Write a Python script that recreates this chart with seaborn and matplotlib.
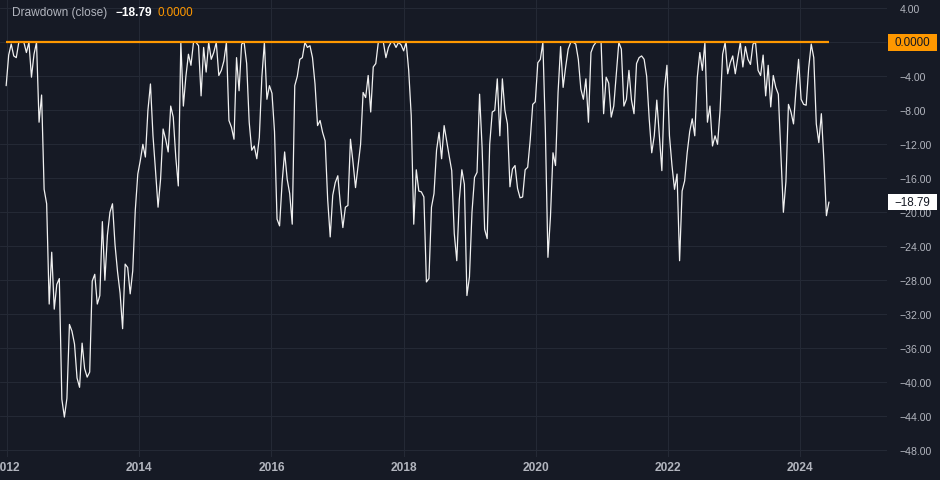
import matplotlib
matplotlib.use("Agg")
import matplotlib.pyplot as plt
import matplotlib.transforms as mtransforms
from matplotlib.patches import Rectangle
import pandas as pd
import seaborn as sns

# ---------------- data (biweekly closes, drawdown in %) ----------------
period_end = "2024-06-10"
period_freq = "14D"

drawdown_a = [-5.1, -1.5, -0.2, -1.6, -1.8, 0, 0, 0, -1.2, 0,
              -4.1, -1.4, 0, -9.4, -6.2, -17.3, -19, -30.8, -24.7, -31.4,
              -28.5, -27.8, -42, -44.1, -41.9, -33.2, -34, -35.5, -39.5, -40.6,
              -35.4, -38.4, -39.4, -38.8, -28.1, -27.3, -30.8, -29.8, -21.1, -28,
              -22.7, -20, -19, -23.8, -27, -29.5, -33.7, -26.1, -26.5, -29.6]
drawdown_b = [-26.9, -19.8, -15.5, -13.9, -12, -13.5, -8, -4.9, -11, -15.1,
              -19.4, -16.1, -10.2, -11.4, -12.9, -7.5, -8.8, -13.5, -16.9, 0,
              -7.5, -4, -1.4, -2.7, 0, 0, -0.4, -6.3, -0.6, -3.5,
              0, -2, -1.2, 0, -3.9, -3.3, -2.2, 0, -9.2, -10,
              -11.4, -1.8, -5.7, -0.2, 0, -2.5, -9.4, -12.7, -12.2, -13.7]
drawdown_c = [-11.2, -4.1, 0, -6.7, -5.1, -6, -10.5, -20.8, -21.6, -16.5,
              -12.9, -16.1, -17.8, -21.4, -5.1, -4, -2, -1.8, 0, -0.6,
              -0.4, -1.8, -4.9, -9.8, -9.2, -10.6, -11.6, -18.5, -22.9, -18,
              -16.5, -15.7, -19, -21.8, -19.4, -19.2, -11.4, -14.1, -17.1, -14.5,
              -12, -5.9, -6.5, -3.9, -8.2, -2.9, -2.5, 0, 0, 0]
drawdown_d = [-1.8, -0.6, 0, 0, -0.6, 0, -0.3, -1, 0, -3.3,
              -8.6, -21.4, -15, -17.5, -17.6, -18.2, -28.2, -27.8, -19.4, -17.8,
              -12.7, -10.6, -13.7, -9.8, -11.6, -13.4, -15.1, -22.5, -25.7, -18.5,
              -15, -16.7, -29.8, -27.6, -20, -15.9, -15.3, -6.1, -12.4, -22,
              -23.1, -12, -8.2, -8, -4.3, -11, -4.3, -8, -9.6, -17]
drawdown_e = [-14.9, -14.5, -17.2, -18.3, -18.2, -15, -14.7, -11.5, -7.3, -7,
              -2.4, -2, 0, -10.6, -25.3, -20.5, -13, -14.5, -5.9, -0.5,
              -5.3, -2.9, -0.8, 0, 0, -0.2, -2, -5.5, -6.7, -4.3,
              -9.4, -1.2, -0.4, 0, 0, 0, -8.4, -4.1, -4.8, -8.8,
              -7.5, -3.7, 0, -0.8, -7.5, -6.7, -3.3, -6.8, -8.4, -2.5]
drawdown_f = [-1.8, -1.6, -2, -4, -9, -13, -11, -6.8, -11, -15.1,
              -5.5, -2.7, -11, -14.5, -17.3, -15.5, -25.7, -17.5, -16.3, -13,
              -10.5, -9, -11, -4.1, -1.2, -3.3, 0, -9.4, -7.5, -12.2,
              -11, -12, -8, -1.4, 0, -3.7, -2.4, -1.6, -3.7, -1.8,
              0, -2.9, -0.5, -2, -2.6, -0.2, 0, -3.3, -3.9, -1.5]
drawdown_g = [-6.3, -2.7, -7.6, -3.9, -5.3, -6.1, -13.1, -20, -16.4, -7.3,
              -8.2, -9.6, -5.5, -2, -6.7, -7.3, -7.4, -3, -0.2, -1.8,
              -9.6, -11.8, -8.4, -13.9, -20.4, -18.79]

zero_level = 0.0
last_value = -18.79
y_ticks = [4, 0, -4, -8, -12, -16, -20, -24, -28, -32, -36, -40, -44, -48]
year_labels = ["2012", "2014", "2016", "2018", "2020", "2022", "2024"]
series_title = "Drawdown (close)"

values = (drawdown_a + drawdown_b + drawdown_c + drawdown_d +
          drawdown_e + drawdown_f + drawdown_g)
dates = pd.date_range(end=period_end, periods=len(values), freq=period_freq)
df = pd.DataFrame({"date": dates, "drawdown": values})

# ---------------- style ----------------
BG = "#161a25"
GRID = "#242935"
TXT = "#b2b5be"
ORANGE = "#ff9800"

sns.set_theme(style="dark")
plt.rcParams["font.family"] = ["Liberation Sans", "DejaVu Sans"]
plt.rcParams["axes.unicode_minus"] = True

W, H = 940, 481
fig = plt.figure(figsize=(W / 100, H / 100), dpi=100, facecolor=BG)
ax = fig.add_axes([0, 23 / H, 887 / W, 458 / H])
ax.set_facecolor(BG)

sns.lineplot(data=df, x="date", y="drawdown", ax=ax, color="#f0f0f0",
             linewidth=0.9, zorder=3)
ax.hlines(zero_level, df["date"].min(), df["date"].max(), color=ORANGE,
          linewidth=1.6, zorder=4)

ax.set_xlim(pd.Timestamp("2011-11-22"), pd.Timestamp("2025-04-27"))
ax.set_ylim(-48.8, 5.1)

ax.set_yticks(y_ticks)
ax.set_yticklabels(["" if v == 0 else f"{v:.2f}".replace("-", "\u2212")
                    for v in y_ticks])
ax.yaxis.tick_right()
ax.set_xticks([pd.Timestamp(f"{y}-01-01") for y in year_labels])
ax.set_xticklabels(year_labels, fontweight="bold")

ax.grid(True, color=GRID, linewidth=0.8)
ax.set_axisbelow(True)
ax.tick_params(axis="y", length=0, colors=TXT, labelsize=7.6, pad=9)
ax.tick_params(axis="x", length=0, colors=TXT, labelsize=8.6, pad=3)
for s in ax.spines.values():
    s.set_visible(False)
ax.set_xlabel("")
ax.set_ylabel("")

# legend-like header
fig.text(12 / W, 1 - 13 / H, series_title, color=TXT, fontsize=8.6,
         va="center", ha="left")
fig.text(115 / W, 1 - 13 / H, f"{last_value:.2f}".replace("-", "\u2212"),
         color="#ffffff", fontsize=8.6, fontweight="bold", va="center", ha="left")
fig.text(158 / W, 1 - 13 / H, f"{zero_level:.4f}", color=ORANGE, fontsize=8.4,
         va="center", ha="left")

# price labels on the scale
blend = mtransforms.blended_transform_factory(fig.transFigure, ax.transData)
for val, face, label in [(zero_level, ORANGE, f"{zero_level:.4f}"),
                         (last_value, "#ffffff",
                          f"{last_value:.2f}".replace("-", "\u2212"))]:
    ax.add_patch(Rectangle((888 / W, val - 1.0), 49 / W, 2.0, transform=blend,
                           facecolor=face, edgecolor="none", clip_on=False,
                           zorder=6))
    ax.text(912.5 / W, val, label, transform=blend, color="#131722",
            fontsize=8.4, ha="center", va="center", clip_on=False, zorder=7)

fig.savefig("out.png", dpi=100, facecolor=BG)
